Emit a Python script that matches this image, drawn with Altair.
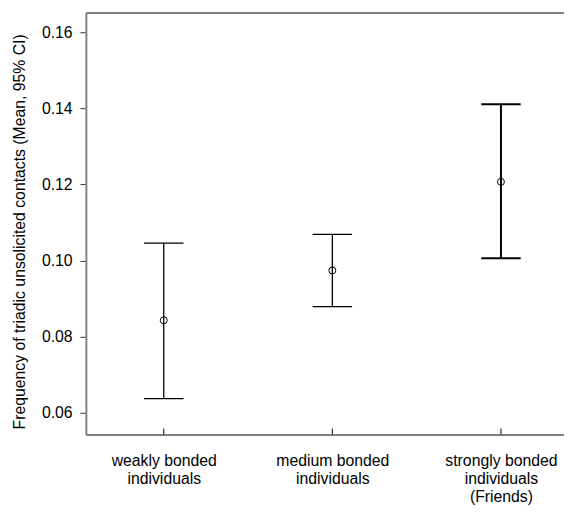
import json
import altair as alt
import pandas as pd

# ---- data ----
cat_lines = [
    ["weakly bonded", "individuals"],
    ["medium bonded", "individuals"],
    ["strongly bonded", "individuals", "(Friends)"],
]
means = [0.0843, 0.0974, 0.1207]
lower = [0.0637, 0.0879, 0.1006]
upper = [0.1046, 0.1069, 0.1411]
y_ticks = [0.06, 0.08, 0.10, 0.12, 0.14, 0.16]

Y_MIN, Y_MAX = 0.0543, 0.1652
X_MIN, X_MAX = -0.462, 2.374
FONT = "Liberation Sans"
GRAY = "#808080"

df = pd.DataFrame({
    "idx": list(range(len(cat_lines))),
    "mean": means,
    "lower": lower,
    "upper": upper,
    "ymin": [Y_MIN] * len(cat_lines),
})

label_expr = json.dumps(cat_lines) + "[datum.value]"

xscale = alt.Scale(domain=[X_MIN, X_MAX], nice=False, zero=False)
yscale = alt.Scale(domain=[Y_MIN, Y_MAX], nice=False, zero=False)

x_bottom = alt.X(
    "idx:Q", scale=xscale,
    axis=alt.Axis(
        orient="bottom", values=[0, 1, 2], labelExpr=label_expr,
        ticks=False, grid=False, title=None,
        labelFont=FONT, labelFontSize=16, labelColor="#000",
        labelPadding=18, labelLineHeight=18.5, labelBaseline="top",
        domainColor=GRAY, domainWidth=2, labelFlush=False, labelOverlap=False,
    ),
)
x_top = alt.X(
    "idx:Q", scale=xscale,
    axis=alt.Axis(orient="top", labels=False, ticks=False, grid=False, title=None,
                  domainColor=GRAY, domainWidth=2),
)
x_plain = alt.X("idx:Q", scale=xscale, axis=None)

y_enc = alt.Y(
    "lower:Q", scale=yscale,
    axis=alt.Axis(
        values=y_ticks, format=".2f", grid=False,
        title="Frequency of triadic unsolicited contacts (Mean, 95% CI)",
        titleFont=FONT, titleFontSize=16, titleFontWeight="normal", titleColor="#000",
        titleX=-67, titleY=222, titleAngle=270, titleBaseline="middle", titleAlign="center",
        labelFont=FONT, labelFontSize=16, labelColor="#000", labelPadding=8,
        tickSize=6, tickColor="#333", tickWidth=1,
        domainColor=GRAY, domainWidth=2,
    ),
)

sw = alt.condition(alt.datum.idx == 2, alt.value(2), alt.value(1.3))

base = alt.Chart(df)

stem = base.mark_rule(color="black").encode(
    x=x_bottom, y=y_enc, y2="upper:Q", strokeWidth=sw)
cap_hi = base.mark_rule(color="black", xOffset=-20, x2Offset=20).encode(
    x=x_plain, x2="idx:Q", y="upper:Q", strokeWidth=sw)
cap_lo = base.mark_rule(color="black", xOffset=-20, x2Offset=20).encode(
    x=x_plain, x2="idx:Q", y="lower:Q", strokeWidth=sw)
pts = base.mark_point(shape="circle", filled=False, color="black", size=50,
                      strokeWidth=1, opacity=1).encode(x=x_plain, y="mean:Q")
xticks = base.mark_rule(color="black", strokeWidth=1, y2Offset=-6).encode(
    x=x_plain, y="ymin:Q", y2="ymin:Q")
topframe = base.mark_point(opacity=0).encode(x=x_top, y="mean:Q")

chart = alt.layer(stem, cap_hi, cap_lo, pts, xticks, topframe).resolve_axis(
    x="independent"
).properties(
    width=485, height=428,
    autosize=alt.AutoSizeParams(type="none"),
    padding={"left": 79, "top": 1, "right": 0, "bottom": 70},
).configure_view(stroke=None).configure(background="white")

chart.save("out.html", embed_options={"renderer": "svg", "actions": False})
